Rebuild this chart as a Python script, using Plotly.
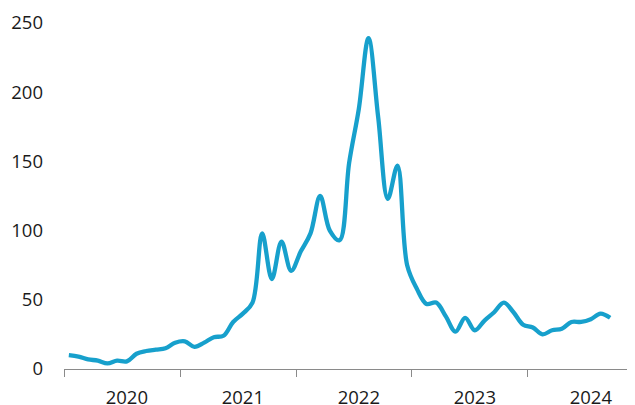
import plotly.graph_objects as go

years = ["2020", "2021", "2022", "2023", "2024"]
months_per_year = 12

values = [
    10, 9, 7, 6, 4, 6, 5.5, 11, 13, 14, 15, 19,          # 2020
    20, 16, 19, 23, 24, 34, 40, 48, 98, 65, 92, 71,      # 2021
    85, 98, 125, 100, 93, 149, 188, 239, 182, 123, 147, 75,  # 2022
    58, 47, 48, 38, 27, 37, 28, 35, 41, 48, 41, 32,      # 2023
    30, 25, 28, 29, 34, 34, 36, 40, 37,                  # 2024
]
y_ticks = [0, 50, 100, 150, 200, 250]

x_idx = list(range(len(values)))
year_bounds = [i * months_per_year - 0.5 for i in range(len(years))]
year_centers = [i * months_per_year + 6 for i in range(len(years))]

fig = go.Figure()
fig.add_trace(go.Scatter(
    x=x_idx, y=values, mode="lines",
    line=dict(color="#17a0cc", width=4.3, shape="spline", smoothing=1.0),
    hoverinfo="skip", cliponaxis=False,
))

font = dict(family="Open Sans, Lato, sans-serif", size=18.5, color="#1a1a1a")

# page body adds an 8px offset; size the figure so the plot lands where the reference has it
fig.update_layout(
    width=627, height=397,
    margin=dict(l=56, r=0, t=15, b=36),
    paper_bgcolor="white", plot_bgcolor="white",
    showlegend=False,
    font=font,
    xaxis=dict(
        range=[-0.5, 58.57],
        showgrid=False, zeroline=False,
        showline=True, linecolor="#8a8a8a", linewidth=1.3,
        tickvals=year_centers, ticktext=years,
        ticks="", ticklabelstandoff=12,
        minor=dict(tickvals=year_bounds, ticks="outside", ticklen=7,
                   tickcolor="#8a8a8a", tickwidth=1.3, showgrid=False),
        tickfont=font, automargin=False,
    ),
    yaxis=dict(
        range=[0, 250],
        showgrid=False, zeroline=False, showline=False,
        tickvals=y_ticks, ticks="", ticklabelstandoff=20,
        tickfont=font, automargin=False,
    ),
)

fig.write_html("out.html")
